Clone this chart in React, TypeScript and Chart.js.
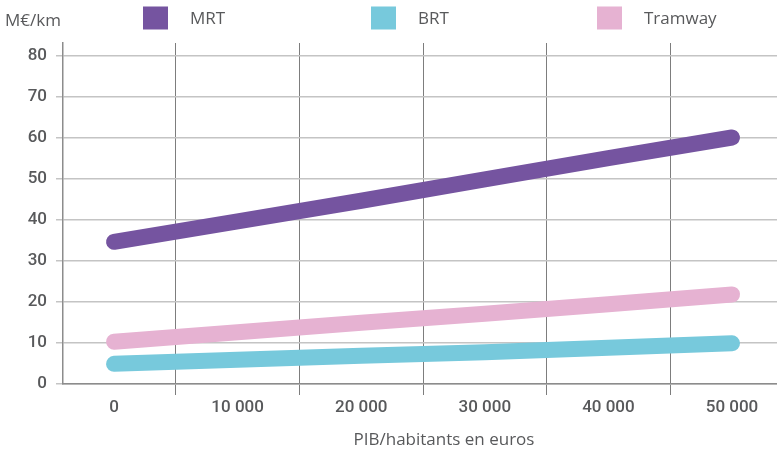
import React, { useEffect, useRef } from "react";
import { Chart, registerables } from "chart.js";

Chart.register(...registerables);

// ---- data ----
const xValues = [0, 10000, 20000, 30000, 40000, 50000];
const xTickLabels = ["0", "10 000", "20 000", "30 000", "40 000", "50 000"];
const mrtValues = [34.6, 39.6, 44.6, 49.8, 55.0, 60.0];
const brtValues = [4.9, 5.9, 6.9, 7.7, 8.8, 9.9];
const tramwayValues = [10.3, 12.6, 14.9, 17.1, 19.4, 21.8];
const seriesNames = ["MRT", "BRT", "Tramway"];
const seriesColors = ["#7554a0", "#77c9dc", "#e6b2d2"];
const yTickValues = [0, 10, 20, 30, 40, 50, 60, 70, 80];
const gridXValues = [5000, 15000, 25000, 35000, 45000];
const yUnitLabel = "M€/km";
const xAxisTitle = "PIB/habitants en euros";

const TEXT_COLOR = "#58595b";
const LABEL_FONT = '17px "Open Sans"';

const overlayPlugin = {
  id: "overlayTexts",
  afterDraw(chart: any) {
    const ctx = chart.ctx;
    ctx.save();
    ctx.fillStyle = TEXT_COLOR;
    ctx.font = LABEL_FONT;
    ctx.textBaseline = "alphabetic";
    // unit label
    ctx.textAlign = "left";
    ctx.fillText(yUnitLabel, 5, 26);
    // legend
    const boxX = [143, 371, 597];
    seriesNames.forEach((name, i) => {
      ctx.fillStyle = seriesColors[i];
      ctx.fillRect(boxX[i], 6.5, 25, 23);
      ctx.fillStyle = TEXT_COLOR;
      ctx.textAlign = "left";
      ctx.fillText(name, boxX[i] + 47, 24);
    });
    // x axis title
    ctx.textAlign = "center";
    ctx.fillText(xAxisTitle, 444, 445);
    ctx.restore();
  },
};

function toPoints(values: number[]) {
  return values.map((v, i) => ({ x: xValues[i], y: v }));
}

export default function App() {
  const canvasRef = useRef<HTMLCanvasElement | null>(null);

  useEffect(() => {
    if (!canvasRef.current) return;
    const seriesValues = [mrtValues, brtValues, tramwayValues];
    const chart = new Chart(canvasRef.current, {
      type: "line",
      data: {
        datasets: seriesNames.map((name, i) => ({
          label: name,
          data: toPoints(seriesValues[i]),
          borderColor: seriesColors[i],
          backgroundColor: seriesColors[i],
          borderWidth: 16,
          borderCapStyle: "round",
          borderJoinStyle: "round",
          pointRadius: 0,
          pointHoverRadius: 0,
          tension: 0,
          fill: false,
        })),
      },
      options: {
        responsive: false,
        animation: false,
        devicePixelRatio: 1,
        layout: { padding: { top: 43, left: 0, right: 0, bottom: 0 } },
        plugins: {
          legend: { display: false },
          tooltip: { enabled: false },
          title: { display: false },
        },
        scales: {
          x: {
            type: "linear",
            min: -4130,
            max: 53640,
            z: 1,
            afterBuildTicks: (scale: any) => {
              const all = [...xValues, ...gridXValues].sort((a, b) => a - b);
              scale.ticks = all.map((v) => ({ value: v }));
            },
            afterFit: (scale: any) => {
              scale.height = 66;
            },
            ticks: {
              autoSkip: false,
              maxRotation: 0,
              minRotation: 0,
              padding: 3,
              color: TEXT_COLOR,
              font: { family: "Roboto", size: 17, weight: "500" },
              callback: (value: any) => {
                const idx = xValues.indexOf(Number(value));
                return idx >= 0 ? xTickLabels[idx] : "";
              },
            },
            grid: {
              color: (ctx: any) =>
                ctx.tick && gridXValues.includes(ctx.tick.value)
                  ? "#7d7d7d"
                  : "rgba(0,0,0,0)",
              lineWidth: 1,
              tickLength: 11,
              drawTicks: true,
            },
            border: { display: true, color: "#8c8c8c", width: 1.5 },
          },
          y: {
            type: "linear",
            min: 0,
            max: 83,
            z: 1,
            afterBuildTicks: (scale: any) => {
              scale.ticks = yTickValues.map((v) => ({ value: v }));
            },
            afterFit: (scale: any) => {
              scale.width = 63;
            },
            ticks: {
              padding: 9,
              color: TEXT_COLOR,
              font: { family: "Roboto", size: 17, weight: "500" },
            },
            grid: {
              color: "#c4c4c4",
              lineWidth: 1.5,
              tickLength: 7,
            },
            border: { display: true, color: "#8c8c8c", width: 1.5 },
          },
        },
      } as any,
      plugins: [overlayPlugin],
    });
    return () => chart.destroy();
  }, []);

  return (
    <div
      style={{
        position: "absolute",
        left: 0,
        top: 0,
        width: 777,
        height: 450,
        background: "#ffffff",
      }}
    >
      <canvas ref={canvasRef} width={777} height={450} />
    </div>
  );
}
